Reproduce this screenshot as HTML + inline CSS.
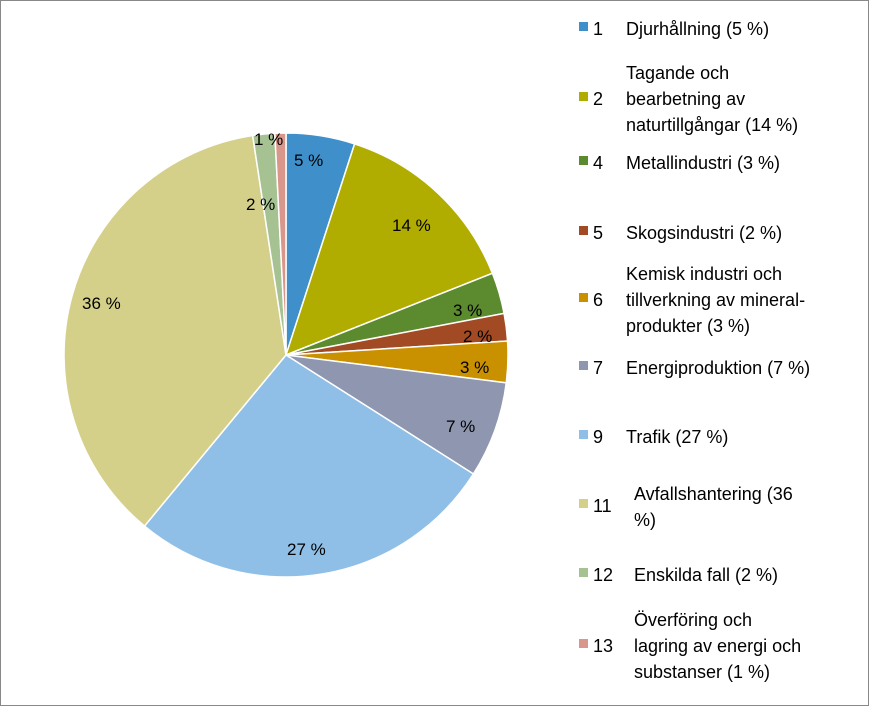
<!DOCTYPE html>
<html><head><meta charset="utf-8"><style>
body{margin:0;background:#fff}
svg text{font-family:"Liberation Sans",sans-serif;fill:#000}
.l{font-size:18px}
.p{font-size:17px}
</style></head><body>
<svg id="s" width="869" height="706" xmlns="http://www.w3.org/2000/svg">
<rect x="0.5" y="0.5" width="868" height="705" fill="#fff" stroke="#888"/>
<g id="pie"></g>
<g class="p">
<text x="294" y="166">5 %</text>
<text x="392" y="231">14 %</text>
<text x="453" y="316">3 %</text>
<text x="463" y="342">2 %</text>
<text x="460" y="373">3 %</text>
<text x="446" y="432">7 %</text>
<text x="287" y="555">27 %</text>
<text x="82" y="309">36 %</text>
<text x="246" y="210">2 %</text>
<text x="254" y="145">1 %</text>
</g>
<g class="l" id="leg">
<rect x="579" y="22" width="9" height="9" fill="#3f8fcb"/><text x="593" y="35">1</text><text x="626" y="35">Djurhållning (5 %)</text>
<rect x="579" y="92" width="9" height="9" fill="#b0ac00"/><text x="593" y="105">2</text><text x="626" y="79">Tagande och</text><text x="626" y="105">bearbetning av</text><text x="626" y="131">naturtillgångar (14 %)</text>
<rect x="579" y="156" width="9" height="9" fill="#5c8a2e"/><text x="593" y="169">4</text><text x="626" y="169">Metallindustri (3 %)</text>
<rect x="579" y="226" width="9" height="9" fill="#a24a23"/><text x="593" y="239">5</text><text x="626" y="239">Skogsindustri (2 %)</text>
<rect x="579" y="293" width="9" height="9" fill="#c99000"/><text x="593" y="306">6</text><text x="626" y="280">Kemisk industri och</text><text x="626" y="306">tillverkning av mineral-</text><text x="626" y="332">produkter (3 %)</text>
<rect x="579" y="361" width="9" height="9" fill="#8e96b0"/><text x="593" y="374">7</text><text x="626" y="374">Energiproduktion (7 %)</text>
<rect x="579" y="430" width="9" height="9" fill="#8fbfe6"/><text x="593" y="443">9</text><text x="626" y="443">Trafik (27 %)</text>
<rect x="579" y="499" width="9" height="9" fill="#d4d08a"/><text x="593" y="512">11</text><text x="634" y="500">Avfallshantering (36</text><text x="634" y="526">%)</text>
<rect x="579" y="568" width="9" height="9" fill="#a6c293"/><text x="593" y="581">12</text><text x="634" y="581">Enskilda fall (2 %)</text>
<rect x="579" y="639" width="9" height="9" fill="#d9968a"/><text x="593" y="652">13</text><text x="634" y="626">Överföring och</text><text x="634" y="652">lagring av energi och</text><text x="634" y="678">substanser (1 %)</text>
</g>
</svg>
<script>
var cx=286,cy=355,r=222;
var v=[5,14,3,2,3,7,27,36.6,1.6,0.8];
var c=["#3f8fcb","#b0ac00","#5c8a2e","#a24a23","#c99000","#8e96b0","#8fbfe6","#d4d08a","#a6c293","#d9968a"];
var a=0,h="";
function pt(t){var ang=t/100*2*Math.PI;return [cx+r*Math.sin(ang),cy-r*Math.cos(ang)];}
for(var i=0;i<v.length;i++){var p1=pt(a),p2=pt(a+v[i]);
h+='<path d="M'+cx+','+cy+' L'+p1[0].toFixed(2)+','+p1[1].toFixed(2)+' A'+r+','+r+' 0 '+(v[i]>50?1:0)+' 1 '+p2[0].toFixed(2)+','+p2[1].toFixed(2)+' Z" fill="'+c[i]+'" stroke="#fff" stroke-width="1.5"/>';
a+=v[i];}
document.getElementById('pie').innerHTML=h;
</script>
</body></html>
